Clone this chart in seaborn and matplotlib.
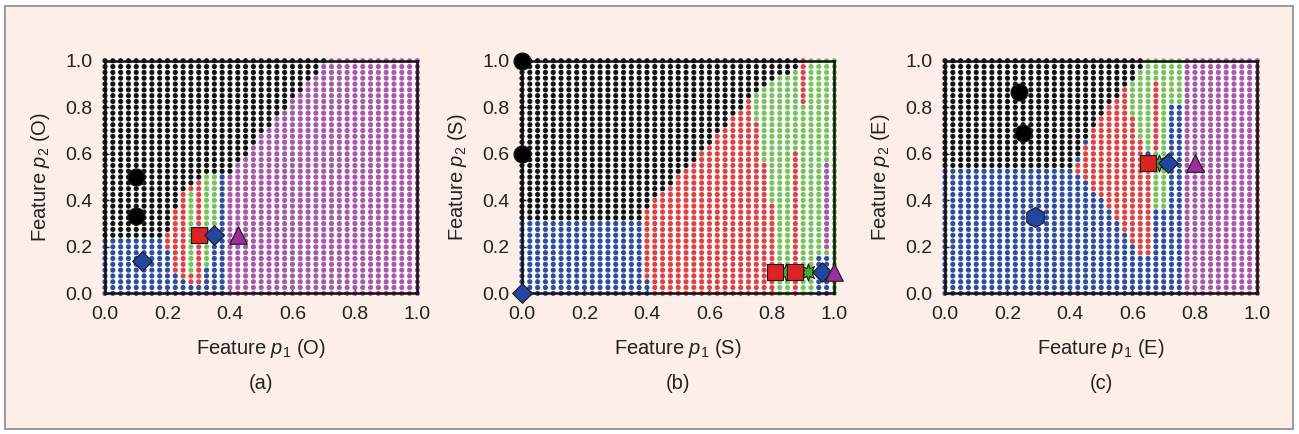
import numpy as np
import pandas as pd
import matplotlib
matplotlib.use('Agg')
import matplotlib.pyplot as plt
from matplotlib.path import Path
from matplotlib.patches import Rectangle
import seaborn as sns

sns.set_style('white')
plt.rcParams['font.family'] = ['Liberation Sans', 'DejaVu Sans']
plt.rcParams['mathtext.fontset'] = 'custom'
plt.rcParams['mathtext.rm'] = 'Liberation Sans'
plt.rcParams['mathtext.it'] = 'Liberation Sans:italic'

# grid of the feature plane (41 x 41 points)
grid_vals = np.round(np.arange(0, 1.0001, 0.025), 3)

dot_colors = {'black': '#141414', 'blue': '#2f4e9c', 'red': '#e04343',
              'green': '#79c35d', 'magenta': '#a75aa7'}
mark_colors = {'black': '#000000', 'blue': '#2446a0', 'red': '#dc2222',
               'green': '#3fae2c', 'magenta': '#9a2e9a'}
mark_shapes = {'black': 'o', 'blue': 'D', 'red': 's', 'green': (8, 1, 0),
               'magenta': '^', 'bluehex': 'h'}

# decision regions: base class, then (class, polygon) painted in order
a_base = 'magenta'
a_regions = [
    ('black', [(-0.1, 0.24), (-0.1, 1.1), (0.715, 1.1), (0.715, 1.01), (0.39, 0.505), (0.39, 0.24)]),
    ('blue', [(-0.1, -0.1), (-0.1, 0.24), (0.39, 0.24), (0.39, -0.1)]),
    ('blue', [(0.34, 0.24), (0.34, 0.51), (0.39, 0.51), (0.39, 0.24)]),
    ('red', [(0.19, 0.225), (0.215, 0.32), (0.24, 0.43), (0.31, 0.49), (0.31, 0.03), (0.24, 0.06), (0.215, 0.12)]),
    ('green', [(0.265, 0.08), (0.265, 0.445), (0.285, 0.445), (0.285, 0.08)]),
    ('green', [(0.315, 0.1), (0.315, 0.5), (0.335, 0.5), (0.335, 0.1)]),
    ('green', [(0.34, 0.28), (0.34, 0.5), (0.36, 0.5), (0.36, 0.28)]),
]

b_base = 'green'
b_regions = [
    ('red', [(0.39, -0.1), (0.39, 1.1), (0.72, 1.1), (0.735, 0.86), (0.77, 0.6), (0.81, 0.31), (0.825, -0.1)]),
    ('red', [(0.865, -0.1), (0.865, 0.6), (0.885, 0.6), (0.885, -0.1)]),
    ('red', [(0.89, 0.8), (0.89, 1.1), (0.91, 1.1), (0.91, 0.8)]),
    ('magenta', [(0.965, 0.19), (0.965, 0.55), (0.985, 0.55), (0.985, 0.19)]),
    ('blue', [(0.94, -0.1), (0.94, 0.17), (0.985, 0.17), (0.985, -0.1)]),
    ('blue', [(-0.1, -0.1), (-0.1, 0.31), (0.39, 0.31), (0.39, -0.1)]),
    ('blue', [(0.39, -0.1), (0.39, 0.06), (0.41, 0.06), (0.41, -0.1)]),
    ('black', [(-0.1, 0.31), (-0.1, 1.1), (0.885, 1.1), (0.885, 0.975), (0.81, 0.92),
               (0.72, 0.83), (0.57, 0.6), (0.40, 0.37), (0.39, 0.31)]),
]

c_base = 'blue'
c_regions = [
    ('green', [(0.57, 1.1), (0.765, 1.1), (0.765, 0.8), (0.715, 0.8), (0.715, 0.36),
               (0.665, 0.36), (0.665, 0.6), (0.57, 0.6)]),
    ('red', [(0.415, 0.535), (0.46, 0.68), (0.52, 0.8), (0.56, 0.9), (0.575, 0.9), (0.6, 0.76),
             (0.64, 0.6), (0.665, 0.56), (0.665, 0.37), (0.655, 0.15), (0.635, 0.15),
             (0.545, 0.33), (0.46, 0.47)]),
    ('red', [(0.665, 0.6), (0.665, 0.92), (0.685, 0.92), (0.685, 0.6)]),
    ('black', [(-0.1, 0.54), (-0.1, 1.1), (0.635, 1.1), (0.635, 0.98), (0.56, 0.86),
               (0.5, 0.76), (0.44, 0.65), (0.41, 0.54)]),
    ('magenta', [(0.765, -0.1), (0.765, 1.1), (1.1, 1.1), (1.1, -0.1)]),
]

# big markers (class samples)
a_mark_x = [0.1, 0.1, 0.12, 0.3, 0.35, 0.425]
a_mark_y = [0.5, 0.333, 0.14, 0.25, 0.25, 0.25]
a_mark_c = ['black', 'black', 'blue', 'red', 'blue', 'magenta']

b_mark_x = [0.0, 0.0, 0.0, 0.845, 0.915, 0.81, 0.875, 0.96, 1.0]
b_mark_y = [1.0, 0.6, 0.0, 0.09, 0.09, 0.09, 0.09, 0.09, 0.09]
b_mark_c = ['black', 'black', 'blue', 'green', 'green', 'red', 'red', 'blue', 'magenta']

c_mark_x = [0.237, 0.25, 0.288, 0.685, 0.65, 0.715, 0.8]
c_mark_y = [0.865, 0.69, 0.33, 0.56, 0.56, 0.56, 0.56]
c_mark_c = ['black', 'black', 'bluehex', 'green', 'red', 'blue', 'magenta']

letters = ['(a)', '(b)', '(c)']
modes = ['O', 'S', 'E']


def paint(base, regions):
    xx, yy = np.meshgrid(grid_vals, grid_vals)
    pts = np.column_stack([xx.ravel(), yy.ravel()])
    labels = np.full(len(pts), base, dtype=object)
    for cls, verts in regions:
        labels[Path(verts).contains_points(pts)] = cls
    return pd.DataFrame({'x': pts[:, 0], 'y': pts[:, 1], 'cls': labels})


fig = plt.figure(figsize=(12.99, 4.34), dpi=100)
fig.patches.append(Rectangle((5 / 1299, 5 / 434), 1288 / 1299, 423 / 434, transform=fig.transFigure,
                             facecolor='#fdeee9', edgecolor='#8a8a8a', lw=1.2, zorder=-10))

lefts = [105 / 1299, 522 / 1299, 945 / 1299]
panels = [(a_base, a_regions, a_mark_x, a_mark_y, a_mark_c),
          (b_base, b_regions, b_mark_x, b_mark_y, b_mark_c),
          (c_base, c_regions, c_mark_x, c_mark_y, c_mark_c)]

for i, (base, regions, mx, my, mc) in enumerate(panels):
    ax = fig.add_axes([lefts[i], 0.324, 0.2405, 0.536])
    ax.set_facecolor('white')
    df = paint(base, regions)
    sns.scatterplot(data=df, x='x', y='y', hue='cls', palette=dot_colors, s=14,
                    linewidth=0, legend=False, ax=ax, clip_on=False, zorder=2)
    for x, y, c in zip(mx, my, mc):
        col = mark_colors['blue' if c == 'bluehex' else c]
        size = {'o': 150, 'D': 100, 's': 130, '^': 160, 'h': 210}.get(mark_shapes[c], 150)
        ax.scatter([x], [y], marker=mark_shapes[c], s=size, c=col, edgecolors='#1b1b1b',
                   linewidths=0.8, clip_on=False, zorder=5)
    ax.set_xlim(0, 1)
    ax.set_ylim(0, 1)
    ticks = np.arange(0, 1.01, 0.2)
    ax.set_xticks(ticks)
    ax.set_yticks(ticks)
    ax.set_xticklabels(['%.1f' % t for t in ticks])
    ax.set_yticklabels(['%.1f' % t for t in ticks])
    ax.tick_params(direction='in', length=3, width=1, labelsize=14, pad=9, colors='#222222',
                   bottom=True, left=True)
    for sp in ax.spines.values():
        sp.set_linewidth(1.8)
        sp.set_color('#111111')
        sp.set_zorder(4)
    ax.set_xlabel('Feature $p_1$ (%s)' % modes[i], fontsize=14.5, color='#222222', va='center')
    ax.set_ylabel('Feature $p_2$ (%s)' % modes[i], fontsize=14.5, color='#222222', va='center')
    ax.xaxis.set_label_coords(0.5, -0.236)
    ax.yaxis.set_label_coords(-0.207, 0.5)
    ax.text(0.5, -0.387, letters[i], transform=ax.transAxes, ha='center', va='center',
            fontsize=14.5, color='#222222')

fig.savefig('out.png', dpi=100)
